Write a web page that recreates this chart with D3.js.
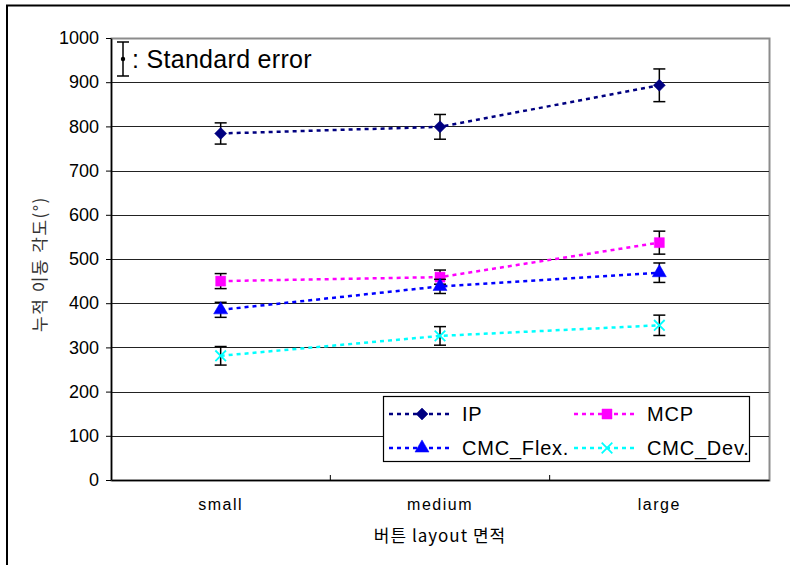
<!DOCTYPE html>
<html>
<head>
<meta charset="utf-8">
<script src="https://cdn.jsdelivr.net/npm/d3@7"></script>
<style>
    body { margin: 0; background: #fff; }
    text { font-family: "Liberation Sans", Arial, sans-serif; }
</style>
</head>
<body>
<div id="chart"></div>
<script>
var categories = ['small', 'medium', 'large'];
var yTicks = [0, 100, 200, 300, 400, 500, 600, 700, 800, 900, 1000];

var ipValues = [784, 799, 893];
var ipErrors = [24, 28, 37];
var mcpValues = [450, 459, 537];
var mcpErrors = [17, 16, 26];
var flexValues = [385, 438, 469];
var flexErrors = [17, 16, 22];
var devValues = [281, 326, 350];
var devErrors = [21, 21, 23];

var seriesNames = ['IP', 'MCP', 'CMC_Flex.', 'CMC_Dev.'];

drawChart('#chart');

function markerPath(s) {
    return d3.symbol().type(s.symbol).size(s.size)();
}

function markerTransform(s, px, py) {
    return `translate(${px},${py})` + (s.rotate ? ' rotate(45)' : '');
}

function drawChart(element) {

    var width = 790;
    var height = 565;
    var margin = ({ top: 38, right: 21, bottom: 85, left: 111 });

    var series = [
        { name: seriesNames[0], values: ipValues, errors: ipErrors, color: '#000080', symbol: d3.symbolSquare, size: 72, rotate: true },
        { name: seriesNames[1], values: mcpValues, errors: mcpErrors, color: '#ff00ff', symbol: d3.symbolSquare, size: 100 },
        { name: seriesNames[2], values: flexValues, errors: flexErrors, color: '#0000ff', symbol: d3.symbolTriangle, size: 85 },
        { name: seriesNames[3], values: devValues, errors: devErrors, color: '#00ffff', symbol: d3.symbolX, size: 75 }
    ];

    var x = d3.scaleBand()
        .domain(categories)
        .range([margin.left, width - margin.right]);
    var y = d3.scaleLinear()
        .domain([0, 1000])
        .range([height - margin.bottom, margin.top]);
    var cx = d => x(d) + x.bandwidth() / 2;

    var svg = d3.select(element)
        .append('svg')
        .attr('width', width)
        .attr('height', height);

    // outer frame (top and left edges only)
    svg.append('path')
        .attr('d', `M7,${height} V5.5 H${width}`)
        .attr('fill', 'none')
        .attr('stroke', '#000')
        .attr('stroke-width', 2);

    // plot border
    svg.append('rect')
        .attr('x', margin.left + 0.5)
        .attr('y', margin.top + 0.5)
        .attr('width', width - margin.right - margin.left)
        .attr('height', height - margin.bottom - margin.top)
        .attr('fill', 'none')
        .attr('stroke', '#8c8c8c')
        .attr('stroke-width', 2);

    // grid lines
    svg.append('g')
        .selectAll('line').data(yTicks.slice(1, -1)).enter().append('line')
        .attr('x1', margin.left)
        .attr('x2', width - margin.right)
        .attr('y1', d => Math.round(y(d)) + 0.5)
        .attr('y2', d => Math.round(y(d)) + 0.5)
        .attr('stroke', '#222')
        .attr('stroke-width', 1.2);

    // y axis
    var yAxis = svg.append('g')
        .attr('transform', `translate(${margin.left},0)`)
        .call(d3.axisLeft(y).tickValues(yTicks).tickFormat(d3.format('d'))
            .tickSize(5).tickPadding(7).tickSizeOuter(0));
    yAxis.select('.domain').attr('stroke', '#000').attr('stroke-width', 1.5);
    yAxis.selectAll('.tick line').attr('stroke', '#000');
    yAxis.selectAll('text').attr('font-size', 18).attr('fill', '#000');

    // x axis
    var xAxis = svg.append('g')
        .attr('transform', `translate(0,${height - margin.bottom})`)
        .call(d3.axisBottom(x).tickSize(0).tickPadding(19));
    xAxis.select('.domain').attr('stroke', '#000').attr('stroke-width', 1.5);
    xAxis.selectAll('text')
        .attr('font-size', 16)
        .attr('letter-spacing', 1.5)
        .attr('fill', '#000');

    svg.append('g')
        .selectAll('line').data(categories.slice(1)).enter().append('line')
        .attr('x1', d => x(d))
        .attr('x2', d => x(d))
        .attr('y1', height - margin.bottom)
        .attr('y2', height - margin.bottom - 5)
        .attr('stroke', '#000');

    // axis titles
    svg.append('text')
        .attr('x', (margin.left + width - margin.right) / 2)
        .attr('y', 542)
        .attr('text-anchor', 'middle')
        .attr('font-size', 17)
        .attr('letter-spacing', 1)
        .style('font-family', '"Noto Sans CJK KR", sans-serif')
        .text('버튼 layout 면적');

    svg.append('text')
        .attr('transform', `translate(46,${(margin.top + height - margin.bottom) / 2 + 5}) rotate(-90)`)
        .attr('text-anchor', 'middle')
        .attr('font-size', 17)
        .attr('letter-spacing', 1.5)
        .attr('fill', '#333')
        .style('font-family', '"Noto Sans CJK KR", sans-serif')
        .text('누적 이동 각도(°)');

    // series lines, error bars, markers
    var line = d3.line()
        .x((d, i) => cx(categories[i]))
        .y(d => y(d));

    series.forEach(s => {
        var g = svg.append('g');

        g.append('path')
            .attr('d', line(s.values))
            .attr('fill', 'none')
            .attr('stroke', s.color)
            .attr('stroke-width', 2.5)
            .attr('stroke-dasharray', '4,4');

        var eb = g.selectAll('.eb').data(s.values).enter().append('g');
        eb.append('line')
            .attr('x1', (d, i) => cx(categories[i]))
            .attr('x2', (d, i) => cx(categories[i]))
            .attr('y1', (d, i) => y(d + s.errors[i]))
            .attr('y2', (d, i) => y(d - s.errors[i]))
            .attr('stroke', '#000')
            .attr('stroke-width', 1.5);
        [1, -1].forEach(sign => {
            eb.append('line')
                .attr('x1', (d, i) => cx(categories[i]) - 6)
                .attr('x2', (d, i) => cx(categories[i]) + 6)
                .attr('y1', (d, i) => y(d + sign * s.errors[i]))
                .attr('y2', (d, i) => y(d + sign * s.errors[i]))
                .attr('stroke', '#000')
                .attr('stroke-width', 1.5);
        });

        g.selectAll('.marker').data(s.values).enter().append('path')
            .attr('transform', (d, i) => markerTransform(s, cx(categories[i]), y(d)))
            .attr('d', markerPath(s))
            .attr('fill', s.color)
            .attr('stroke', s.color)
            .attr('stroke-width', s.symbol === d3.symbolX ? 1.8 : 0.5);
    });

    // legend
    var legend = svg.append('g');
    legend.append('rect')
        .attr('x', 383.5)
        .attr('y', 396.5)
        .attr('width', 366)
        .attr('height', 65)
        .attr('fill', '#fff')
        .attr('stroke', '#000')
        .attr('stroke-width', 1.2);

    var legendPos = [[389, 414], [574, 414], [389, 448], [574, 448]];
    series.forEach((s, i) => {
        var lx = legendPos[i][0];
        var ly = legendPos[i][1];
        legend.append('line')
            .attr('x1', lx)
            .attr('x2', lx + 64)
            .attr('y1', ly)
            .attr('y2', ly)
            .attr('stroke', s.color)
            .attr('stroke-width', 2.5)
            .attr('stroke-dasharray', '4,4');
        legend.append('path')
            .attr('transform', markerTransform(s, lx + 33, ly))
            .attr('d', markerPath(s))
            .attr('fill', s.color)
            .attr('stroke', s.color)
            .attr('stroke-width', s.symbol === d3.symbolX ? 1.8 : 0.5);
        legend.append('text')
            .attr('x', lx + 73)
            .attr('y', ly + 7)
            .attr('font-size', 20)
            .attr('letter-spacing', 0.8)
            .attr('fill', '#000')
            .text(s.name);
    });

    // standard error note
    var note = svg.append('g');
    note.append('line')
        .attr('x1', 123).attr('x2', 123).attr('y1', 42).attr('y2', 76)
        .attr('stroke', '#000').attr('stroke-width', 1.5);
    note.append('line')
        .attr('x1', 117).attr('x2', 129).attr('y1', 42).attr('y2', 42)
        .attr('stroke', '#000').attr('stroke-width', 1.5);
    note.append('line')
        .attr('x1', 117).attr('x2', 129).attr('y1', 76).attr('y2', 76)
        .attr('stroke', '#000').attr('stroke-width', 1.5);
    note.append('circle')
        .attr('cx', 123).attr('cy', 59).attr('r', 2.2)
        .attr('fill', '#000');
    note.append('text')
        .attr('x', 132)
        .attr('y', 68)
        .attr('font-size', 25)
        .attr('letter-spacing', 0.3)
        .attr('fill', '#000')
        .text(': Standard error');
}
</script>
</body>
</html>
